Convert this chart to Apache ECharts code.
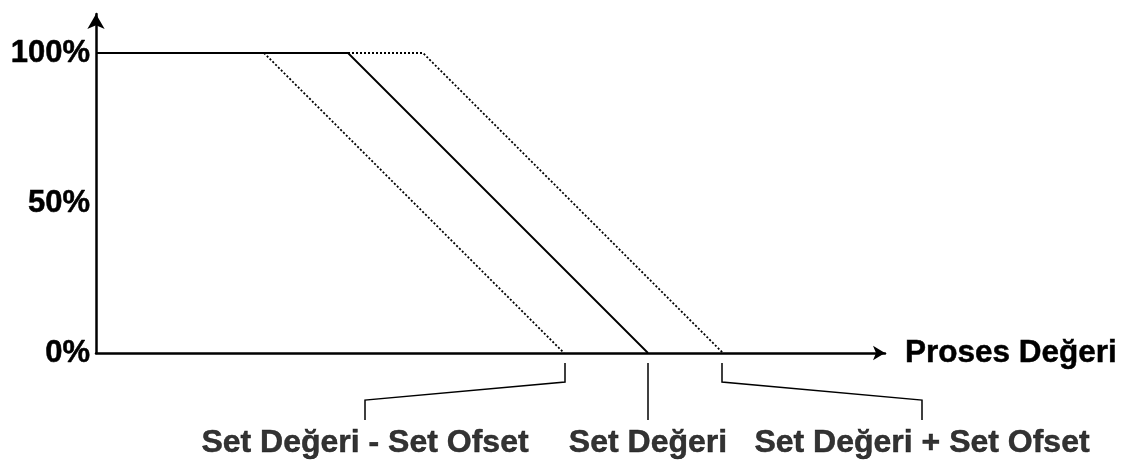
<!DOCTYPE html>
<html>
<head>
<meta charset="utf-8">
<script src="https://cdn.jsdelivr.net/npm/echarts@6/dist/echarts.min.js"></script>
<style>
  html, body { margin: 0; padding: 0; background: #fff; }
  #chart { width: 1135px; height: 464px; }
</style>
</head>
<body>
<div id="chart"></div>
<script>
// x ekseni: proses değeri (göreli birim), y ekseni: çıkış yüzdesi
const yTicks = [0, 50, 100];

// ana çıkış eğrisi (set değeri)
const mainCurve = [[0, 100], [252, 100], [552, 0]];
// set değeri - set ofset
const lowerCurve = [[168, 100], [468, 0]];
// set değeri + set ofset
const upperCurve = [[252, 100], [327, 100], [627, 0]];

// etiketlere giden bağlantı çizgileri
const leaderLower = [[469, -3.3], [469, -9.7], [269, -15.7], [269, -22.3]];
const leaderMid = [[552, -3.3], [552, -22.3]];
const leaderUpper = [[626, -3.3], [626, -9.7], [826, -15.7], [826, -22.3]];

const bottomLabels = ['Set Değeri - Set Ofset', 'Set Değeri', 'Set Değeri + Set Ofset'];
const bottomLabelPos = [[269, -30], [552, -30], [826, -30]];

const FONT = '"Liberation Sans", Arial, sans-serif';

const chart = echarts.init(document.getElementById('chart'));

function lineSeries(data, type, width) {
    return {
        type: 'line',
        data: data,
        symbol: 'none',
        clip: false,
        silent: true,
        lineStyle: { color: '#000', width: width, type: type }
    };
}

const textStyle = {
    color: '#000',
    fontWeight: 'bold',
    fontFamily: FONT,
    textBorderColor: '#000',
    textBorderWidth: 0.5
};

chart.setOption({
    animation: false,
    grid: { left: 96, right: 250, top: 14, bottom: 111 },
    xAxis: {
        type: 'value',
        min: 0,
        max: 789,
        name: 'Proses Değeri',
        nameLocation: 'end',
        nameGap: 20,
        nameTextStyle: Object.assign({ fontSize: 31.5 }, textStyle),
        axisLine: {
            show: true,
            symbol: ['none', 'arrow'],
            symbolSize: [11, 12],
            lineStyle: { color: '#000', width: 2.5 }
        },
        axisTick: { show: false },
        axisLabel: { show: false },
        splitLine: { show: false }
    },
    yAxis: {
        type: 'value',
        min: 0,
        max: 113,
        axisLine: {
            show: true,
            symbol: ['none', 'arrow'],
            symbolSize: [13, 15],
            lineStyle: { color: '#000', width: 2.5 }
        },
        axisTick: { show: false },
        axisLabel: Object.assign({
            customValues: yTicks,
            formatter: v => v + '%',
            margin: 6,
            fontSize: 31
        }, textStyle),
        splitLine: { show: false }
    },
    series: [
        lineSeries(mainCurve, 'solid', 1.8),
        lineSeries(lowerCurve, [2, 2], 1.8),
        lineSeries(upperCurve, [2, 2], 1.8),
        {
            type: 'lines',
            coordinateSystem: 'cartesian2d',
            polyline: true,
            clip: false,
            silent: true,
            lineStyle: { color: '#000', width: 1.5, opacity: 1 },
            data: [leaderLower, leaderMid, leaderUpper].map(c => ({ coords: c }))
        },
        {
            type: 'scatter',
            symbolSize: 0,
            clip: false,
            silent: true,
            data: bottomLabelPos.map((p, i) => ({ value: p, name: bottomLabels[i] })),
            label: Object.assign({
                show: true,
                position: 'inside',
                formatter: p => p.name,
                fontSize: 32
            }, textStyle)
        }
    ]
});
</script>
</body>
</html>
